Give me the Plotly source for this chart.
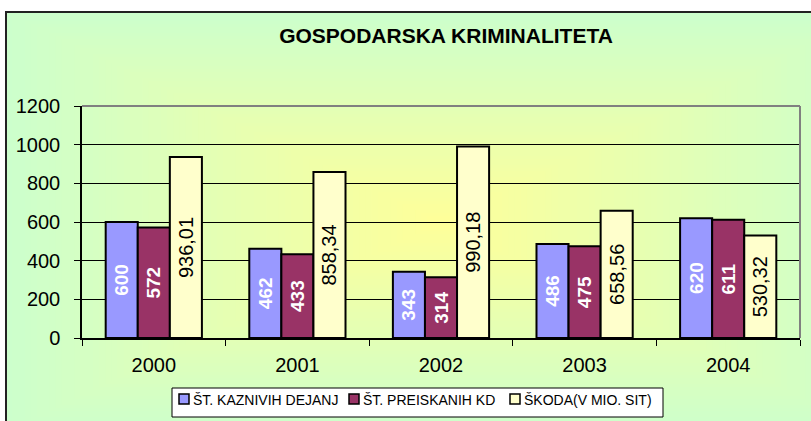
import plotly.graph_objects as go

years = ["2000", "2001", "2002", "2003", "2004"]
kaznivih = [600, 462, 343, 486, 620]
preiskanih = [572, 433, 314, 475, 611]
skoda = [936.01, 858.34, 990.18, 658.56, 530.32]
names = ["ŠT. KAZNIVIH DEJANJ", "ŠT. PREISKANIH KD", "ŠKODA(V MIO. SIT)"]
colors = ["#9999FF", "#993366", "#FFFFCC"]
title_text = "GOSPODARSKA KRIMINALITETA"

W, H = 811, 421
L, R, T, B = 82, 11, 106, 83
PW, PH = W - L - R, H - T - B
FONT = "Arial, Liberation Sans, sans-serif"


def px_x(x):
    return (x - L) / PW


def px_y(y):
    return (H - B - y) / PH


fig = go.Figure()
series = [kaznivih, preiskanih, skoda]
for i, (vals, nm, col) in enumerate(zip(series, names, colors)):
    inside_font = dict(family=FONT, size=19, color="white", weight="bold") if i < 2 else \
        dict(family=FONT, size=20, color="black")
    fig.add_trace(go.Bar(
        x=years, y=vals, name=nm,
        marker=dict(color=col, line=dict(color="black", width=2)),
        texttemplate="%{y}" if i < 2 else "%{y:.2f}",
        textposition="inside", insidetextanchor="middle", textangle=-90,
        insidetextfont=inside_font,
        hoverinfo="skip", showlegend=False,
    ))

# rectangular from-center gradient background
shapes = []
cx, cy, hw, hh = 440, 222, 434, 210
c_edge = (0xCC, 0xFF, 0xCC)
c_mid = (0xFF, 0xFF, 0x99)
N = 70
for k in range(N, 0, -1):
    t = k / N
    col = tuple(round(c_mid[j] + (c_edge[j] - c_mid[j]) * t) for j in range(3))
    shapes.append(dict(
        type="rect", xref="paper", yref="paper", layer="below",
        x0=px_x(cx - hw * t), x1=px_x(cx + hw * t),
        y0=px_y(cy + hh * t), y1=px_y(cy - hh * t),
        fillcolor="rgb(%d,%d,%d)" % col, line=dict(width=0),
    ))
# chart border
shapes.append(dict(type="rect", xref="paper", yref="paper", layer="above",
                   x0=px_x(6), x1=px_x(900), y0=px_y(500), y1=px_y(12),
                   line=dict(color="#222222", width=2), fillcolor="rgba(0,0,0,0)"))
# plot-area border top and right (gray)
shapes.append(dict(type="line", xref="paper", yref="paper", layer="above",
                   x0=0, x1=1, y0=1, y1=1, line=dict(color="#808080", width=2)))
shapes.append(dict(type="line", xref="paper", yref="paper", layer="above",
                   x0=1, x1=1, y0=0, y1=1, line=dict(color="#808080", width=2)))

# legend (box, swatches, labels)
annotations = []
shapes.append(dict(type="rect", xref="paper", yref="paper", layer="above",
                   x0=px_x(172), x1=px_x(663), y0=px_y(417), y1=px_y(388),
                   line=dict(color="black", width=1), fillcolor="white"))
sw_x = [179, 349, 510]
for sx, nm, col in zip(sw_x, names, colors):
    shapes.append(dict(type="rect", xref="paper", yref="paper", layer="above",
                       x0=px_x(sx), x1=px_x(sx + 10), y0=px_y(404), y1=px_y(394),
                       line=dict(color="black", width=1.5), fillcolor=col))
    annotations.append(dict(text=nm, xref="paper", yref="paper", showarrow=False,
                            x=px_x(sx + 12), y=px_y(399.5), xanchor="left", yanchor="middle",
                            font=dict(family=FONT, size=14, color="black")))

fig.update_layout(
    width=W, height=H,
    margin=dict(l=L, r=R, t=T, b=B, pad=0, autoexpand=False),
    paper_bgcolor="white", plot_bgcolor="rgba(0,0,0,0)",
    separators=",.",
    barmode="group", bargap=0.33, bargroupgap=0,
    font=dict(family=FONT, color="black"),
    title=dict(text="<b>" + title_text + "</b>", font=dict(family=FONT, size=21, color="black"),
               x=446 / W, xref="container", xanchor="center",
               y=1 - 35.5 / H, yref="container", yanchor="middle"),
    shapes=shapes,
    annotations=annotations,
    showlegend=False,
    xaxis=dict(type="category", showline=True, linecolor="black", linewidth=1.5,
               ticks="outside", ticklen=6, tickcolor="black", tickson="boundaries",
               tickfont=dict(family=FONT, size=20, color="black"),
               ticklabelstandoff=8, showgrid=False, fixedrange=True),
    yaxis=dict(range=[0, 1200], dtick=200, showline=True, linecolor="black", linewidth=1.5,
               ticks="outside", ticklen=6, tickcolor="black",
               tickfont=dict(family=FONT, size=20, color="black"),
               ticklabelstandoff=10,
               showgrid=True, gridcolor="black", gridwidth=1, zeroline=False,
               fixedrange=True),
)

fig.write_html("out.html")
